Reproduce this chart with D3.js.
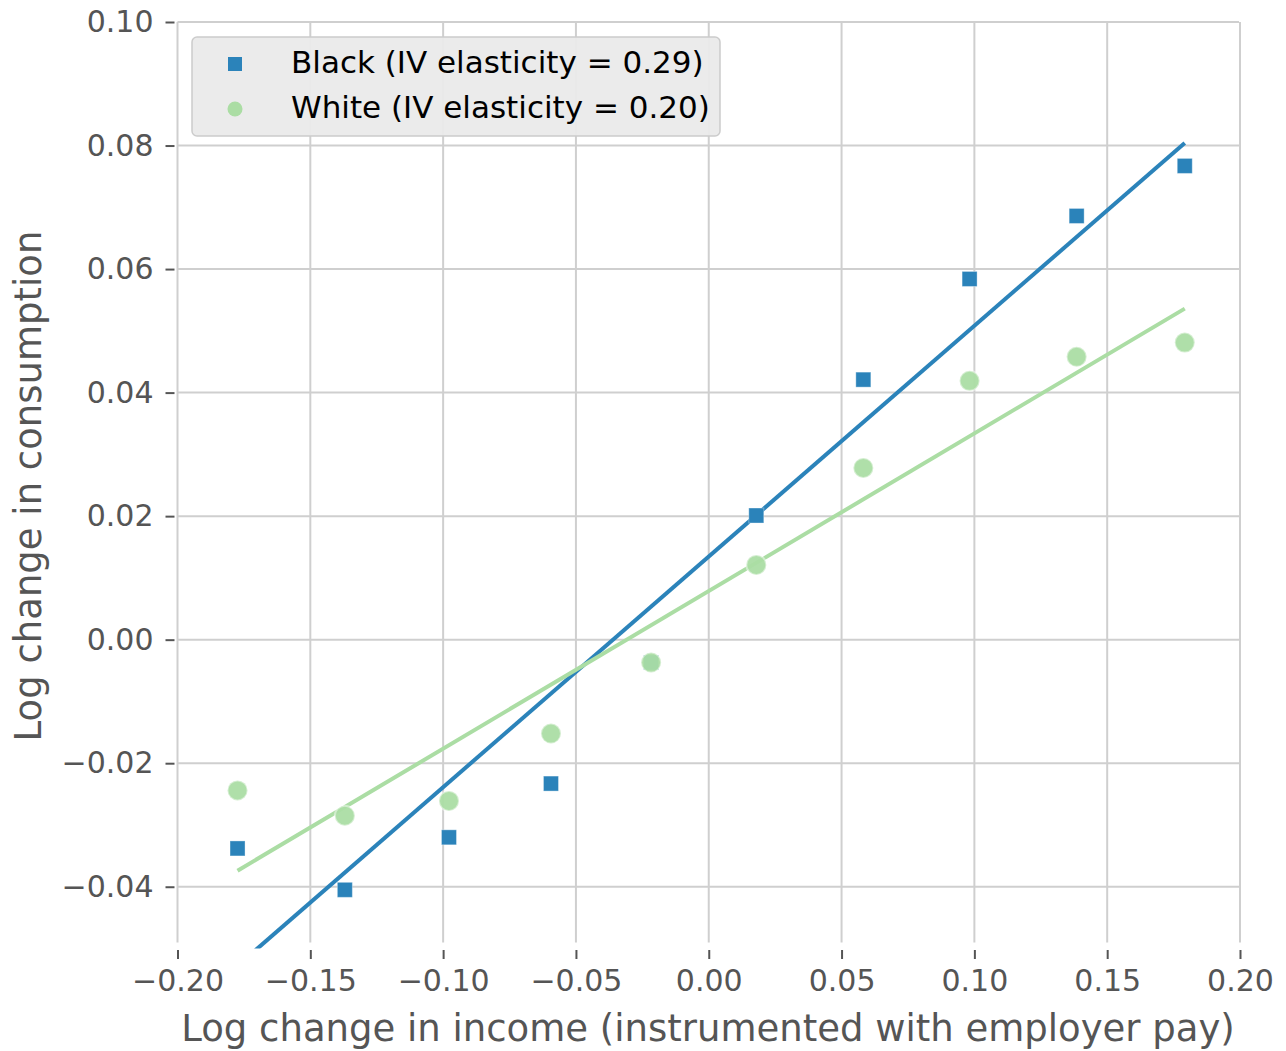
<!DOCTYPE html>
<html>
<head>
<meta charset="utf-8">
<script src="https://cdn.jsdelivr.net/npm/d3@7/dist/d3.min.js"></script>
<style>
  html, body { margin: 0; padding: 0; background: #ffffff; }
  svg { display: block; }
  text { font-family: "DejaVu Sans", sans-serif; }
</style>
</head>
<body>
<svg id="chart" width="1286" height="1051"></svg>
<script>
// ---- data ----
const incomeBins = [-0.1774, -0.1370, -0.0978, -0.0594, -0.0217, 0.0179, 0.0582, 0.0982, 0.1385, 0.1792];
const blackConsumption = [-0.0338, -0.0405, -0.0320, -0.0233, -0.0037, 0.0201, 0.0421, 0.0584, 0.0686, 0.0767];
const whiteConsumption = [-0.0244, -0.0285, -0.0261, -0.0152, -0.0037, 0.0121, 0.0278, 0.0419, 0.0458, 0.0481];
const fitX = [-0.1774, 0.1792];
const blackFit = [-0.0528, 0.0804];
const whiteFit = [-0.0374, 0.0536];
const xTicks = [-0.20, -0.15, -0.10, -0.05, 0.00, 0.05, 0.10, 0.15, 0.20];
const yTicks = [-0.04, -0.02, 0.00, 0.02, 0.04, 0.06, 0.08, 0.10];
const seriesNames = ["Black (IV elasticity = 0.29)", "White (IV elasticity = 0.20)"];
const xLabel = "Log change in income (instrumented with employer pay)";
const yLabel = "Log change in consumption";

(function () {
// ---- layout ----
const svg = d3.select("#chart");
const pL = 177.5, pR = 1240, pT = 22, pB = 948.5;
const x = d3.scaleLinear().domain([-0.2, 0.2]).range([pL, pR]);
const y = d3.scaleLinear().domain([-0.05, 0.10]).range([pB, pT]);
const blue = "#2b83ba", green = "#abdda4";
const fmt = d => d3.format(".2f")(d).replace("-", "\u2212");

// clip
svg.append("defs").append("clipPath").attr("id", "clip")
  .append("rect").attr("x", pL).attr("y", pT).attr("width", pR - pL).attr("height", pB - pT);

// grid
const grid = svg.append("g");
grid.selectAll("line.gx").data(xTicks).join("line")
  .attr("x1", d => x(d)).attr("x2", d => x(d)).attr("y1", pT).attr("y2", pB - 6)
  .attr("stroke", "#cfcfcf").attr("stroke-width", 2);
grid.selectAll("line.gy").data(yTicks).join("line")
  .attr("y1", d => y(d)).attr("y2", d => y(d)).attr("x1", pL).attr("x2", pR - 1)
  .attr("stroke", "#cfcfcf").attr("stroke-width", 2);

// axes (offset ticks, no spines)
const xAxis = d3.axisBottom(x).tickValues(xTicks).tickFormat(fmt).tickSize(9).tickPadding(11);
const gx = svg.append("g").attr("transform", `translate(0,${pB + 1.5})`).call(xAxis);
gx.select(".domain").remove();
gx.selectAll(".tick line").attr("stroke", "#555555").attr("stroke-width", 2);
gx.selectAll(".tick text").attr("fill", "#555555").attr("font-size", 30).attr("font-family", "DejaVu Sans");

const yAxis = d3.axisLeft(y).tickValues(yTicks).tickFormat(fmt).tickSize(9).tickPadding(12);
const gy = svg.append("g").attr("transform", `translate(${pL - 3},0)`).call(yAxis);
gy.select(".domain").remove();
gy.selectAll(".tick line").attr("stroke", "#555555").attr("stroke-width", 2);
gy.selectAll(".tick text").attr("fill", "#555555").attr("font-size", 30).attr("font-family", "DejaVu Sans");

// labels
svg.append("text").attr("x", 708).attr("y", 1041)
  .attr("text-anchor", "middle").attr("fill", "#555555").attr("font-size", 37).text(xLabel);
svg.append("text").attr("transform", `translate(41,486) rotate(-90)`)
  .attr("text-anchor", "middle").attr("fill", "#555555").attr("font-size", 37).text(yLabel);

// plot content
const plot = svg.append("g").attr("clip-path", "url(#clip)");
const line = d3.line().x(d => x(d[0])).y(d => y(d[1]));
plot.append("path").datum(fitX.map((v, i) => [v, blackFit[i]]))
  .attr("d", line).attr("stroke", blue).attr("stroke-width", 4).attr("fill", "none");
plot.append("path").datum(fitX.map((v, i) => [v, whiteFit[i]]))
  .attr("d", line).attr("stroke", green).attr("stroke-width", 4).attr("fill", "none");

const sq = 15;
plot.selectAll("rect.black").data(incomeBins.map((v, i) => [v, blackConsumption[i]])).join("rect")
  .attr("x", d => x(d[0]) - sq / 2).attr("y", d => y(d[1]) - sq / 2)
  .attr("width", sq).attr("height", sq)
  .attr("fill", blue).attr("stroke", "#ffffff").attr("stroke-opacity", 0.35).attr("stroke-width", 1);
plot.selectAll("circle.white").data(incomeBins.map((v, i) => [v, whiteConsumption[i]])).join("circle")
  .attr("cx", d => x(d[0])).attr("cy", d => y(d[1])).attr("r", 10)
  .attr("fill", green).attr("fill-opacity", 0.95)
  .attr("stroke", "#ffffff").attr("stroke-opacity", 0.45).attr("stroke-width", 2);

// legend
const lg = svg.append("g");
lg.append("rect").attr("x", 192).attr("y", 37).attr("width", 528).attr("height", 99)
  .attr("rx", 5).attr("fill", "#eaeaea").attr("fill-opacity", 0.95)
  .attr("stroke", "#cccccc").attr("stroke-width", 1.5);
lg.append("rect").attr("x", 235 - 7).attr("y", 64 - 7).attr("width", 14).attr("height", 14).attr("fill", blue);
lg.append("circle").attr("cx", 235).attr("cy", 109).attr("r", 7.5).attr("fill", green);
lg.selectAll("text.lt").data(seriesNames).join("text")
  .attr("x", 291).attr("y", (d, i) => 62 + i * 45 + 11)
  .attr("font-size", 31).attr("fill", "#000000").text(d => d);
})();
</script>
</body>
</html>
